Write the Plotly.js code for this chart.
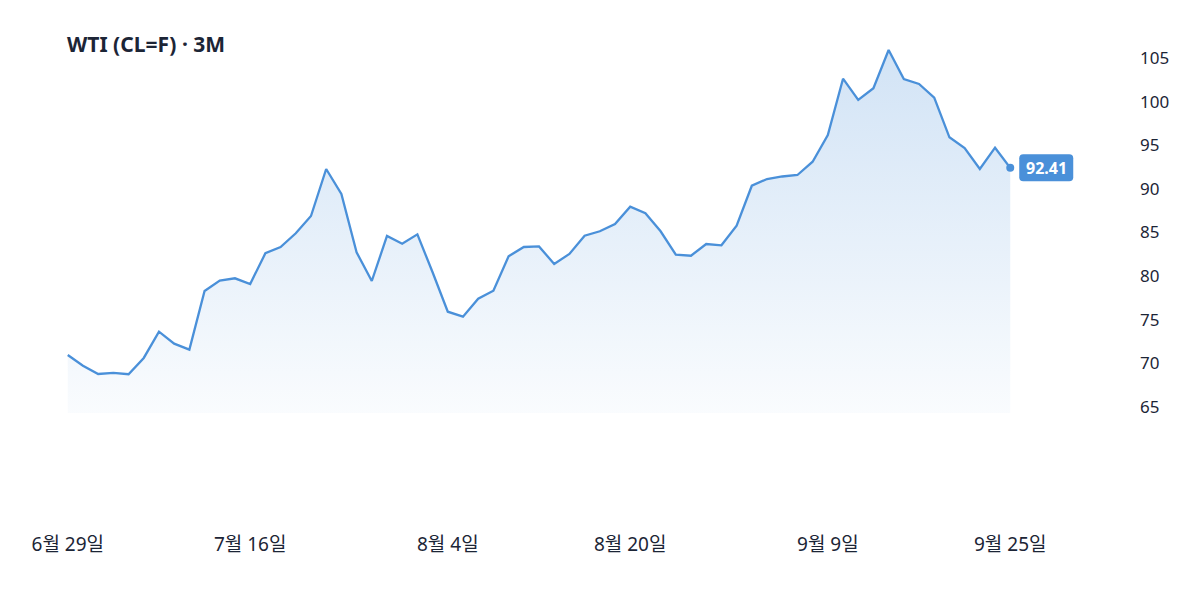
<!DOCTYPE html>
<html>
<head>
<meta charset="utf-8">
<script src="https://cdn.plot.ly/plotly-3.0.1.min.js"></script>
<style>
  html, body { margin: 0; padding: 0; background: #fff; }
  #chart { width: 1200px; height: 600px; }
</style>
</head>
<body>
<div id="chart"></div>
<script>
// WTI closing prices, 3 months of trading days (index-based x axis)
const prices = [
  70.96, 69.73, 68.78, 68.90, 68.75, 70.62, 73.63, 72.26, 71.57, 78.30,
  79.48, 79.75, 79.10, 82.62, 83.34, 84.91, 86.89, 92.28, 89.41, 82.73,
  79.44, 84.60, 83.72, 84.79, 80.44, 75.92, 75.35, 77.41, 78.33, 82.27,
  83.34, 83.40, 81.39, 82.54, 84.63, 85.14, 85.97, 87.96, 87.20, 85.14,
  82.46, 82.34, 83.68, 83.53, 85.78, 90.36, 91.13, 91.42, 91.59, 93.11,
  96.17, 102.63, 100.19, 101.53, 105.92, 102.59, 102.02, 100.45, 95.91, 94.68,
  92.28, 94.72, 92.41,
];
const tickIdx = [0, 12, 25, 37, 50, 62];
const tickLabels = ["6월 29일", "7월 16일", "8월 4일", "8월 20일", "9월 9일", "9월 25일"];

const idx = prices.map((_, i) => i);
const last = prices.length - 1;
const xRange = [-0.05, last + 0.05];
const lineColor = "#4a90d9";
const textColor = "#1c2536";
const font = "'Noto Sans', 'Noto Sans CJK KR', sans-serif";

// rounded badge next to the last point, in pixels relative to that point
function badgePath(x0, x1, h, r) {
  return `M${x0 + r},${-h} L${x1 - r},${-h} Q${x1},${-h} ${x1},${-h + r} ` +
    `L${x1},${h - r} Q${x1},${h} ${x1 - r},${h} L${x0 + r},${h} ` +
    `Q${x0},${h} ${x0},${h - r} L${x0},${-h + r} Q${x0},${-h} ${x0 + r},${-h} Z`;
}

const traces = [
  {
    x: idx,
    y: prices,
    type: "scatter",
    mode: "lines",
    line: { color: lineColor, width: 2.3 },
    fill: "tozeroy",
    fillgradient: {
      type: "vertical",
      start: 64.3,
      stop: 106,
      colorscale: [
        [0, "rgba(74,144,217,0.03)"],
        [1, "rgba(74,144,217,0.25)"],
      ],
    },
    hoverinfo: "skip",
  },
  {
    x: [last],
    y: [prices[last]],
    type: "scatter",
    mode: "markers",
    marker: { color: lineColor, size: 8 },
    cliponaxis: false,
    hoverinfo: "skip",
  },
];

const layout = {
  width: 1200,
  height: 600,
  showlegend: false,
  paper_bgcolor: "#fff",
  plot_bgcolor: "#fff",
  margin: { l: 67, r: 189, t: 28, b: 187 },
  font: { family: font, color: textColor },
  title: {
    text: "<b>WTI (CL=F) · 3M</b>",
    font: { family: font, size: 21, color: textColor },
    xref: "paper",
    x: 0,
    xanchor: "left",
    yref: "container",
    y: 1 - 45 / 600,
    yanchor: "middle",
  },
  xaxis: {
    range: xRange,
    tickvals: tickIdx,
    ticktext: tickLabels,
    showgrid: false,
    zeroline: false,
    showline: false,
    ticks: "",
    ticklabelstandoff: 118,
    tickfont: { size: 19, color: textColor },
    fixedrange: true,
  },
  yaxis: {
    side: "right",
    range: [64.31, 108.44],
    tick0: 65,
    dtick: 5,
    showgrid: false,
    zeroline: false,
    showline: false,
    ticks: "",
    ticklabelstandoff: 128,
    tickfont: { size: 17, color: textColor },
    fixedrange: true,
  },
  shapes: [
    {
      type: "path",
      xref: "paper",
      yref: "y",
      xsizemode: "pixel",
      ysizemode: "pixel",
      xanchor: (last - xRange[0]) / (xRange[1] - xRange[0]),
      yanchor: prices[last],
      path: badgePath(9, 63, 13.5, 4),
      fillcolor: lineColor,
      line: { width: 0 },
      layer: "above",
    },
  ],
  annotations: [
    {
      x: last,
      y: prices[last],
      xref: "x",
      yref: "y",
      text: "<b>" + prices[last].toFixed(2) + "</b>",
      showarrow: false,
      xanchor: "center",
      xshift: 36,
      font: { family: font, size: 16, color: "#fff" },
    },
  ],
};

Plotly.newPlot("chart", traces, layout, { displayModeBar: false, staticPlot: true });
</script>
</body>
</html>
